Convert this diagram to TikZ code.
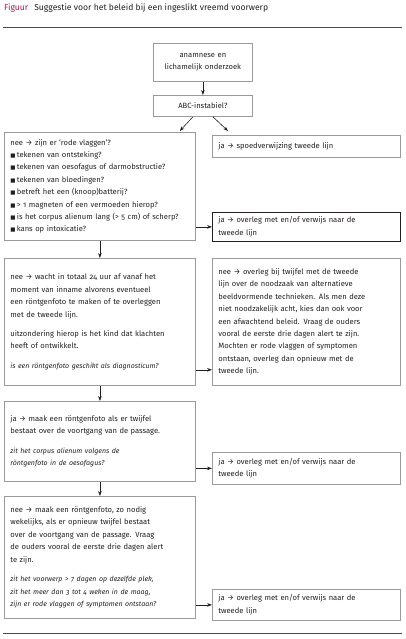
\documentclass[tikz,border=0pt]{standalone}
\usepackage{fontspec}
\setmainfont{Fira Sans}[Numbers=OldStyle]
\newfontfamily\symfont{DejaVu Sans}
\usetikzlibrary{arrows.meta,calc}
\definecolor{crim}{HTML}{A3195B}
\definecolor{frame}{HTML}{9A9A9A}
\definecolor{ink}{HTML}{231F20}
\newcommand{\sq}{{\symfont\fontsize{5.5}{6}\selectfont ■}\,}
\newcommand{\ar}{→}
\tikzset{
  box/.style={draw=frame, line width=0.8pt, anchor=north west, align=left,
    inner xsep=6pt, inner ysep=2pt, font=\fontsize{7.6}{12.4}\selectfont, text=ink},
  cbox/.style={box, align=center},
  arr/.style={-{Stealth[length=5pt,width=3.6pt]}, line width=0.6pt, draw=ink},
  rule/.style={draw=crim, line width=0.9pt}
}
\newcommand{\bx}[7]{% name, x, y, w, h, style, text
  \node[#6, minimum width=#4pt, minimum height=#5pt, text width=#4pt-12pt] (#1) at (#2,#3) {#7};}
\begin{document}
\begin{tikzpicture}[x=1pt,y=-1pt]
\useasboundingbox (0,0) rectangle (405,639);
\node[anchor=base west, font=\fontsize{8.6}{10}\selectfont, inner sep=0pt] (title) at (4,11)
  {\textcolor{crim}{Figuur}\hspace{6pt}\textcolor{ink}{Suggestie voor het beleid bij een ingeslikt vreemd voorwerp}};
\draw[rule] (3,27) -- (402,27);
\draw[rule] (3,633) -- (402,633);

\bx{b1}{153}{43}{99}{38}{cbox}{anamnese en\\lichamelijk onderzoek}
\bx{b2}{153}{95}{99}{21}{cbox}{ABC-instabiel?}
\bx{b3}{4}{132}{191}{108}{box}{%
nee \ar\ zijn er ‘rode vlaggen’?\\
\sq tekenen van ontsteking?\\
\sq tekenen van oesofagus of darmobstructie?\\
\sq tekenen van bloedingen?\\
\sq betreft het een (knoop)batterij?\\
\sq > 1 magneten of een vermoeden hierop?\\
\sq is het corpus alienum lang (> 5 cm) of scherp?\\
\sq kans op intoxicatie?}
\bx{sp}{212}{135}{188}{22}{box}{ja \ar\ spoedverwijzing tweede lijn}
\bx{j1}{212}{212}{188}{29}{box,draw=ink}{ja \ar\ overleg met en/of verwijs naar de\\tweede lijn}
\bx{b4}{4}{258}{191}{127}{box}{%
nee \ar\ wacht in totaal 24 uur af vanaf het\\
moment van inname alvorens eventueel\\
een röntgenfoto te maken of te overleggen\\
met de tweede lijn.\\[7pt]
uitzondering hierop is het kind dat klachten\\
heeft of ontwikkelt.\\[7pt]
{\itshape\fontsize{7}{12.4}\selectfont is een röntgenfoto geschikt als diagnosticum?}}
\bx{r4}{212}{258}{188}{127}{box}{%
nee \ar\ overleg bij twijfel met de tweede\\
lijn over de noodzaak van alternatieve\\
beeldvormende technieken. Als men deze\\
niet noodzakelijk acht, kies dan ook voor\\
een afwachtend beleid. Vraag de ouders\\
vooral de eerste drie dagen alert te zijn.\\
Mochten er rode vlaggen of symptomen\\
ontstaan, overleg dan opnieuw met de\\
tweede lijn.}
\bx{b5}{4}{401}{191}{80}{box}{%
ja \ar\ maak een röntgenfoto als er twijfel\\
bestaat over de voortgang van de passage.\\[7pt]
{\itshape\fontsize{7}{12.6}\selectfont zit het corpus alienum volgens de\\
röntgenfoto in de oesofagus?}}
\bx{j2}{212}{452}{188}{32}{box}{ja \ar\ overleg met en/of verwijs naar de\\tweede lijn}
\bx{b6}{4}{496}{191}{122}{box}{%
nee \ar\ maak een röntgenfoto, zo nodig\\
wekelijks, als er opnieuw twijfel bestaat\\
over de voortgang van de passage. Vraag\\
de ouders vooral de eerste drie dagen alert\\
te zijn.\\[7pt]
{\itshape\fontsize{7}{12.6}\selectfont zit het voorwerp > 7 dagen op dezelfde plek,\\
zit het meer dan 3 tot 4 weken in de maag,\\
zijn er rode vlaggen of symptomen ontstaan?}}
\bx{j3}{212}{589}{188}{31}{box}{ja \ar\ overleg met en/of verwijs naar de\\tweede lijn}

\draw[arr] (b1.south) -- (b2.north);
\draw[arr] ($(b2.south)+(-10,0)$) -- ($(b3.north east)+(-16,-1)$);
\draw[arr] ($(b2.south)+(10,0)$) -- ($(sp.north west)+(16,-4)$);
\draw[arr] (b3.east |- j1.west) -- (j1.west);
\draw[arr] (b3.south) -- (b4.north);
\draw[arr] ($(b4.south east)+(0,-16)$) -- ($(r4.south west)+(0,-16)$);
\draw[arr] (b4.south) -- (b5.north);
\draw[arr] (b5.east |- j2.west) -- (j2.west);
\draw[arr] (b5.south) -- (b6.north);
\draw[arr] (b6.east |- j3.west) -- (j3.west);
\end{tikzpicture}
\end{document}
